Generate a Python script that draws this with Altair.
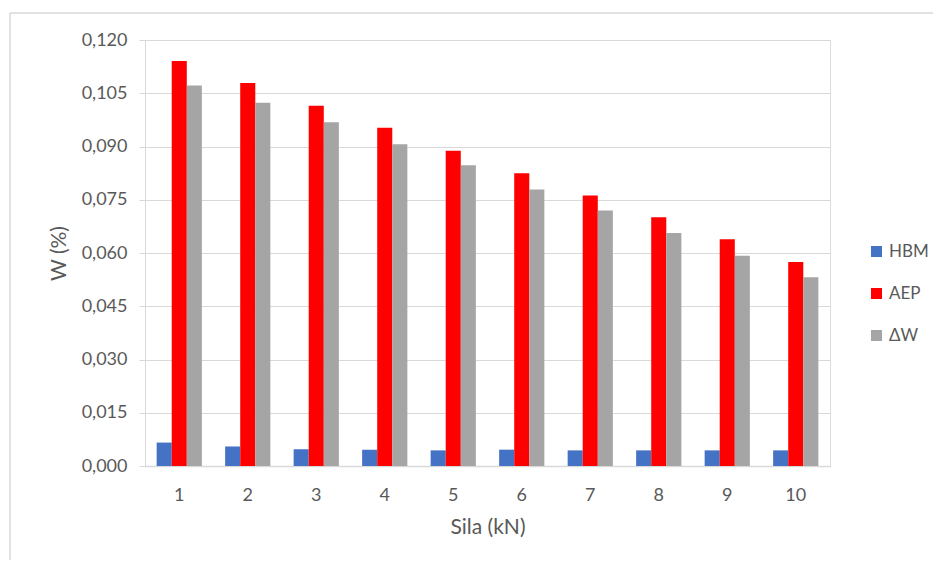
import altair as alt
import pandas as pd

categories = ["1", "2", "3", "4", "5", "6", "7", "8", "9", "10"]
series = ["HBM", "AEP", "ΔW"]
hbm = [0.0066, 0.0055, 0.0047, 0.0046, 0.0044, 0.0046, 0.0044, 0.0044, 0.0044, 0.0044]
aep = [0.1141, 0.1079, 0.1015, 0.0953, 0.0888, 0.0825, 0.0762, 0.0701, 0.0639, 0.0575]
dw = [0.1072, 0.1023, 0.0968, 0.0906, 0.0847, 0.0779, 0.0720, 0.0656, 0.0592, 0.0532]
colors = ["#4472C4", "#FF0000", "#A5A5A5"]
y_ticks = [0.0, 0.015, 0.030, 0.045, 0.060, 0.075, 0.090, 0.105, 0.120]

rows = []
for s, vals in zip(series, [hbm, aep, dw]):
    for c, v in zip(categories, vals):
        rows.append({"Sila": c, "Serie": s, "W": v})
df = pd.DataFrame(rows)

FONT = "Lato"
TXT = "#595959"

bars = alt.Chart(df).mark_bar().encode(
    x=alt.X("Sila:N", sort=categories, title="Sila (kN)",
            scale=alt.Scale(paddingInner=0.34, paddingOuter=0.17),
            axis=alt.Axis(labelAngle=0, ticks=False, domainColor="#D9D9D9",
                          domainWidth=1.5, labelFontSize=18, labelPadding=20,
                          titleFontSize=21, titlePadding=12, titleFontWeight="normal",
                          labelColor=TXT, titleColor=TXT, labelFont=FONT, titleFont=FONT)),
    xOffset=alt.XOffset("Serie:N", sort=series),
    y=alt.Y("W:Q", title="W (%)",
            scale=alt.Scale(domain=[0, 0.12], nice=False),
            axis=alt.Axis(values=y_ticks,
                          labelExpr="replace(format(datum.value, '.3f'), '.', ',')",
                          gridColor="#D9D9D9", gridWidth=1.2, domainColor="#D9D9D9",
                          tickColor="#D9D9D9", tickSize=6, labelFontSize=18,
                          labelPadding=12, titleFontSize=21, titlePadding=12,
                          titleFontWeight="normal", labelColor=TXT, titleColor=TXT,
                          labelFont=FONT, titleFont=FONT)),
    color=alt.Color("Serie:N", sort=series,
                    scale=alt.Scale(domain=series, range=colors),
                    legend=alt.Legend(title=None, orient="none", legendX=723, legendY=203,
                                      symbolType="square", symbolSize=121,
                                      symbolStrokeWidth=0, labelFontSize=17,
                                      labelColor=TXT, labelFont=FONT, rowPadding=24,
                                      labelOffset=4)),
)

frame_top = alt.Chart(pd.DataFrame({"a": [0]})).mark_rule(color="#D9D9D9", strokeWidth=1.5).encode(
    x=alt.value(-135), x2=alt.value(820), y=alt.value(-27))
frame_left = alt.Chart(pd.DataFrame({"a": [0]})).mark_rule(color="#D9D9D9", strokeWidth=1.5).encode(
    x=alt.value(-135), y=alt.value(-27), y2=alt.value(540))

chart = alt.layer(frame_top, frame_left, bars).properties(
    width=685, height=426,
    autosize=alt.AutoSizeParams(type="none"),
    padding={"left": 137, "top": 32, "right": 103, "bottom": 94},
).configure_view(stroke=None).configure(background="white")

chart.save("out.html", embed_options={"renderer": "svg", "actions": False})
